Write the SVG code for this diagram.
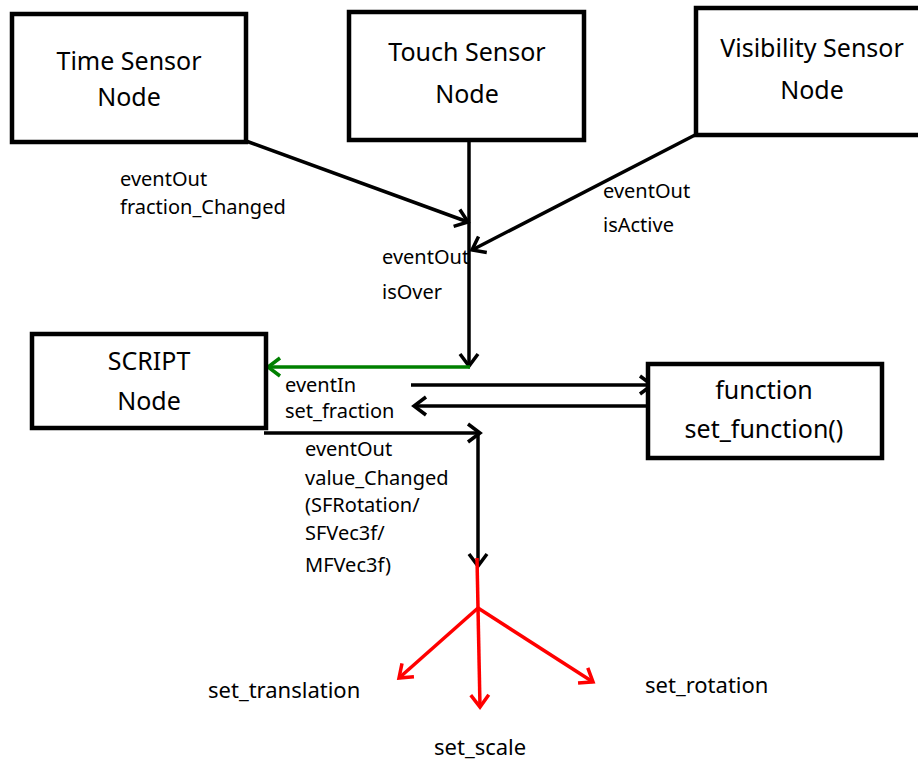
<svg xmlns="http://www.w3.org/2000/svg" width="918" height="763" viewBox="0 0 918 763">
<style>
.box{fill:#fff;stroke:#000;stroke-width:4.5}
.t{font-family:"Noto Sans","Open Sans",sans-serif;font-size:25px;fill:#000;text-anchor:middle}
.l{font-family:"Noto Sans","Open Sans",sans-serif;font-size:20px;fill:#000}
.b{font-family:"Noto Sans","Open Sans",sans-serif;font-size:22px;fill:#000}
.c{fill:none;stroke:#000;stroke-width:3.5}
.g{fill:none;stroke:#008000;stroke-width:3.5}
.r{fill:none;stroke:#ff0000;stroke-width:3.5}
</style>
<defs>
<marker id="ak" markerUnits="userSpaceOnUse" markerWidth="30" markerHeight="30" refX="15" refY="15" orient="auto" viewBox="0 0 30 30">
<path d="M3,6 L15,15 L3,24" fill="none" stroke="#000" stroke-width="3.5"/>
</marker>
<marker id="ag" markerUnits="userSpaceOnUse" markerWidth="30" markerHeight="30" refX="15" refY="15" orient="auto" viewBox="0 0 30 30">
<path d="M3,6 L15,15 L3,24" fill="none" stroke="#008000" stroke-width="3.5"/>
</marker>
<marker id="ar" markerUnits="userSpaceOnUse" markerWidth="30" markerHeight="30" refX="15" refY="15" orient="auto" viewBox="0 0 30 30">
<path d="M3,6 L15,15 L3,24" fill="none" stroke="#ff0000" stroke-width="3.5"/>
</marker>
</defs>
<rect width="918" height="763" fill="#fff"/>
<g id="connectors">
<line class="c" x1="246" y1="141" x2="468" y2="222" marker-end="url(#ak)"/>
<line class="c" x1="469" y1="140" x2="469" y2="366" marker-end="url(#ak)"/>
<line class="c" x1="695" y1="135" x2="472" y2="250" marker-end="url(#ak)"/>
<line class="g" x1="470" y1="367" x2="268" y2="367" marker-end="url(#ag)"/>
<line class="c" x1="411" y1="385" x2="652" y2="385" marker-end="url(#ak)"/>
<line class="c" x1="655" y1="406" x2="414" y2="406" marker-end="url(#ak)"/>
<polyline class="c" points="264,433 480,433" marker-end="url(#ak)"/>
<line class="c" x1="478" y1="433" x2="478" y2="566" marker-end="url(#ak)"/>
<line class="r" x1="477" y1="558" x2="478" y2="608"/>
<line class="r" x1="478" y1="608" x2="399" y2="678" marker-end="url(#ar)"/>
<line class="r" x1="478" y1="608" x2="480" y2="707" marker-end="url(#ar)"/>
<line class="r" x1="478" y1="608" x2="593" y2="682" marker-end="url(#ar)"/>
</g>
<g id="time-sensor">
<rect class="box" x="12" y="14" width="234" height="128"/>
<text class="t" x="129" y="70">Time Sensor</text>
<text class="t" x="129" y="106">Node</text>
</g>
<g id="touch-sensor">
<rect class="box" x="349" y="12" width="235" height="128"/>
<text class="t" x="467" y="61">Touch Sensor</text>
<text class="t" x="467" y="103">Node</text>
</g>
<g id="visibility-sensor">
<rect class="box" x="696" y="8" width="226" height="127"/>
<text class="t" x="812" y="57">Visibility Sensor</text>
<text class="t" x="812" y="99">Node</text>
</g>
<g id="script-node">
<rect class="box" x="32" y="334" width="234" height="94"/>
<text class="t" x="149" y="370">SCRIPT</text>
<text class="t" x="149" y="410">Node</text>
</g>
<g id="function-node">
<rect class="box" x="648" y="364" width="234" height="94"/>
<text class="t" x="764" y="399">function</text>
<text class="t" x="764" y="438">set_function()</text>
</g>
<g id="labels">
<text class="l" x="120" y="186">eventOut</text>
<text class="l" x="120" y="214">fraction_Changed</text>
<text class="l" x="382" y="264">eventOut</text>
<text class="l" x="382" y="299">isOver</text>
<text class="l" x="603" y="198">eventOut</text>
<text class="l" x="603" y="232">isActive</text>
<text class="l" x="285" y="392">eventIn</text>
<text class="l" x="285" y="418">set_fraction</text>
<text class="l" x="305" y="456">eventOut</text>
<text class="l" x="305" y="485">value_Changed</text>
<text class="l" x="305" y="512">(SFRotation/</text>
<text class="l" x="305" y="540">SFVec3f/</text>
<text class="l" x="305" y="572">MFVec3f)</text>
<text class="b" x="208" y="698">set_translation</text>
<text class="b" x="645" y="693">set_rotation</text>
<text class="b" x="434" y="755">set_scale</text>
</g>
</svg>
